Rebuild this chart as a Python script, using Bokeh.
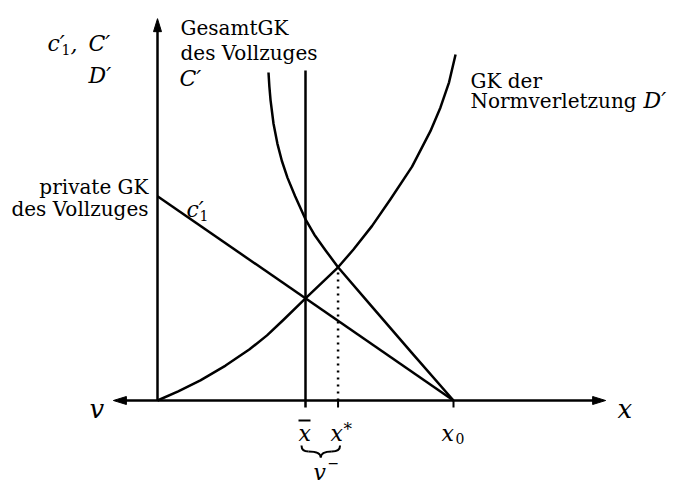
from bokeh.plotting import figure
from bokeh.models import Range1d
from bokeh.core.properties import value
from bokeh.embed import file_html
from bokeh.resources import INLINE

# ---------------- data (axis units) ----------------
# private marginal cost of enforcement c1'
c1_x = [0.0, 10.0]
c1_y = [6.9, 0.0]
# marginal cost of norm violation D'
D_x = [0.0, 0.7, 1.45, 2.3, 3.1, 3.7, 4.25, 5.0, 6.1, 6.62, 7.25, 7.87, 8.6, 9.22, 9.56, 9.85, 10.07]
D_y = [0.0, 0.31, 0.68, 1.18, 1.72, 2.2, 2.72, 3.45, 4.5, 5.1, 5.9, 6.8, 7.9, 9.1, 9.9, 10.75, 11.69]
# total marginal cost of enforcement C'
C_x = [3.75, 3.78, 3.82, 3.92, 4.05, 4.2, 4.39, 4.65, 5.0, 5.3, 5.68, 6.1, 7.2, 8.6, 10.0]
C_y = [11.08, 10.6, 10.14, 9.35, 8.68, 8.1, 7.53, 6.9, 6.12, 5.6, 5.07, 4.5, 3.22, 1.6, 0.0]
# special points on the x axis
x_bar = 5.0
x_star = 6.1
y_star = 4.5
x_0 = 10.0
x_bar_top = 11.15
# axis extents
x_axis_min, x_axis_max = -1.49, 15.14
y_axis_max = 12.9

# ---------------- layout ----------------
S = 29.6            # pixels per axis unit
W, H = 673, 486
OX, OY = 157, 400   # figure pixel of the origin
FONT = value("DejaVu Serif")
LW = 2.5

def P(ix, iy):
    """figure pixel -> axis units (annotation placement only)"""
    return (ix - OX) / S, (OY - iy) / S

def d(px):
    return px / S

p = figure(width=W, height=H, title=None,
           x_range=Range1d(-OX / S, (W - OX) / S),
           y_range=Range1d(-(H - OY) / S, OY / S),
           x_axis_type=None, y_axis_type=None,
           output_backend="svg", toolbar_location=None, min_border=0)
p.outline_line_color = None
p.background_fill_color = "white"
p.border_fill_color = "white"
for g in p.grid:
    g.visible = False

# axes
p.line([0, 0], [0, y_axis_max - d(10)], line_color="black", line_width=LW)
p.line([x_axis_min + d(10), x_axis_max - d(10)], [0, 0], line_color="black", line_width=LW)
AL, AW = d(13), d(4)
p.patches(
    [[x_axis_max, x_axis_max - AL, x_axis_max - AL],
     [x_axis_min, x_axis_min + AL, x_axis_min + AL],
     [0, -AW, AW]],
    [[0, AW, -AW],
     [0, AW, -AW],
     [y_axis_max, y_axis_max - AL, y_axis_max - AL]],
    fill_color="black", line_color="black", line_width=1)

# ticks below the axis
tick = d(7)
p.segment([x_star, x_0], [0, 0], [x_star, x_0], [-tick, -tick],
          line_color="black", line_width=2)

# curves
p.line(c1_x, c1_y, line_color="black", line_width=LW, line_join="round")
p.line(D_x, D_y, line_color="black", line_width=LW, line_join="round")
p.line(C_x, C_y, line_color="black", line_width=LW, line_join="round")
p.line([x_bar, x_bar], [-tick, x_bar_top], line_color="black", line_width=LW)
p.line([x_star, x_star], [0, y_star], line_color="black", line_width=2.5,
       line_dash="2 5")

# brace under x_bar .. x_star
bl, br = x_bar - d(4), x_star + d(2)
bc = (bl + br) / 2
y0, y1, y2 = -d(45), -d(51), -d(57)
p.bezier(x0=[bl, bl + d(7), bc, bc + d(11)],
         y0=[y0, y1, y2, y1],
         x1=[bl + d(7), bc, bc + d(11), br],
         y1=[y1, y2, y1, y0],
         cx0=[bl, bc - d(4), bc, br - d(3)],
         cy0=[y0 - d(4), y1, y2 + d(4), y1],
         cx1=[bl + d(3), bc, bc + d(4), br],
         cy1=[y1, y2 + d(4), y1, y0 - d(4)],
         line_color="black", line_width=2)

# overline of x-bar label
p.segment([x_bar - d(7)], [-d(20)], [x_bar + d(5)], [-d(20)],
          line_color="black", line_width=2)

def txt(items, size, style="normal", align="left"):
    xs = [P(a, b)[0] for a, b, _ in items]
    ys = [P(a, b)[1] for a, b, _ in items]
    p.text(xs, ys, text=[t for _, _, t in items], text_font=FONT,
           text_font_size=size, text_font_style=style, text_align=align,
           text_baseline="alphabetic", text_color="black")

# plain text labels
txt([(180, 27, "GesamtGK"), (180, 52, "des Vollzuges"),
     (470, 80, "GK der"), (470, 100, "Normverletzung")], "20px")
txt([(148, 186, "private GK"), (148, 208, "des Vollzuges")], "20px", align="right")

# math labels (italic)
txt([(47, 43, "c\u2032"), (70, 43, ","), (88, 43, "C\u2032"), (88, 75, "D\u2032"),
     (179, 78, "C\u2032"), (186, 209, "c\u2032"), (643, 100, "D\u2032"),
     (298, 433, "x"), (330, 433, "x"), (441, 433, "x"), (313, 472, "v")],
    "22px", style="italic")
txt([(89, 408, "v"), (617, 408, "x")], "26px", style="italic")
# sub/superscripts
txt([(61, 49, "1"), (199, 215, "1"), (455, 438, "0")], "14px")
txt([(343, 428, "*")], "17px")
txt([(327, 462, "\u2212")], "14px")

open("out.html", "w").write(file_html(p, INLINE))
